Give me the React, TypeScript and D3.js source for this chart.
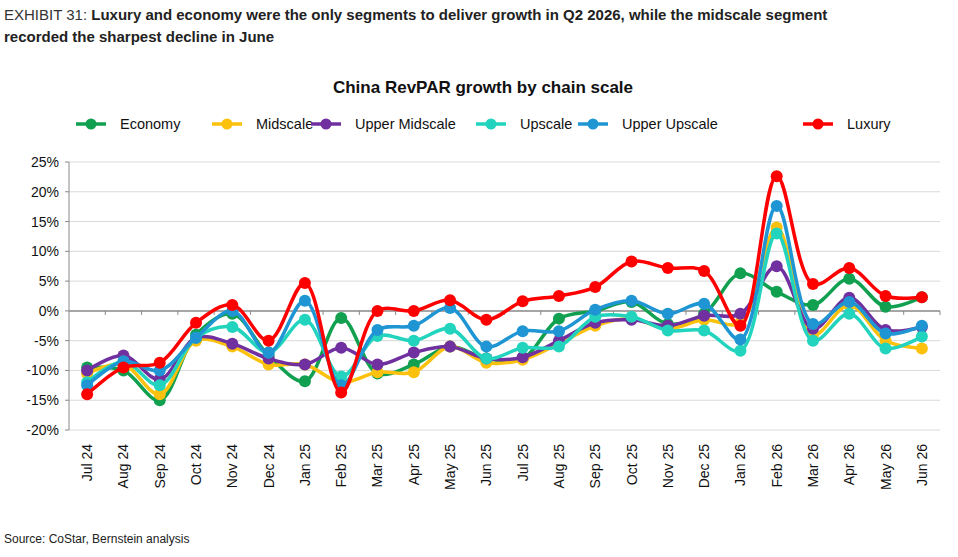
import React from 'react';
import * as d3 from 'd3';

const months = ['Jul 24','Aug 24','Sep 24','Oct 24','Nov 24','Dec 24','Jan 25','Feb 25','Mar 25','Apr 25','May 25','Jun 25','Jul 25','Aug 25','Sep 25','Oct 25','Nov 25','Dec 25','Jan 26','Feb 26','Mar 26','Apr 26','May 26','Jun 26'];

const economy = [-9.5,-10,-15,-4,-0.5,-7.5,-11.8,-1.2,-10.5,-9,-6,-8,-8,-1.3,0,1.5,-2.2,-0.5,6.3,3.2,1,5.4,0.7,2.3];
const midscale = [-10.5,-9,-14,-5,-6,-9,-9,-12,-10.3,-10.3,-6,-8.7,-8.2,-5.5,-2.5,-1.3,-3,-1.5,-2,14,-4,1,-5,-6.3];
const upperMidscale = [-10,-7.5,-11.5,-4.5,-5.5,-8,-9,-6.2,-9,-7,-6,-8,-7.8,-5,-2,-1.5,-2.5,-0.8,-0.5,7.5,-3,2.2,-3.2,-2.7];
const upscale = [-12,-8.5,-12.5,-4.5,-2.7,-7,-1.5,-11,-4.2,-5,-3,-8,-6.2,-6,-1,-1,-3.3,-3.3,-6.7,13,-5,-0.5,-6.3,-4.3];
const upperUpscale = [-12.5,-8.5,-10,-4.5,0,-7,1.7,-12.5,-3.2,-2.5,0.5,-6,-3.4,-3.4,0.2,1.7,-0.5,1.2,-4.8,17.6,-2.2,1.5,-3.8,-2.5];
const luxury = [-14,-9.5,-8.7,-2,1,-5,4.7,-13.7,0,0,1.8,-1.5,1.6,2.5,4,8.3,7.2,6.7,-2.5,22.6,4.5,7.2,2.5,2.3];

const seriesNames = ['Economy','Midscale','Upper Midscale','Upscale','Upper Upscale','Luxury'];
const seriesColors = ['#10a050','#fcc10c','#7030a0','#22d4bd','#1f96d3','#ff0000'];
const seriesValues = [economy, midscale, upperMidscale, upscale, upperUpscale, luxury];
const yTicks = [25,20,15,10,5,0,-5,-10,-15,-20];

const W = 958, H = 557;
const left = 69, right = 940, top = 162, bottom = 430;

export default function App() {
  const x = d3.scalePoint<string>().domain(months).range([left, right]).padding(0.5);
  const y = d3.scaleLinear().domain([-20, 25]).range([bottom, top]);
  const line = d3.line<number>()
    .x((_, i) => x(months[i])!)
    .y(d => y(d))
    .curve(d3.curveCatmullRom.alpha(0.5));
  const legendX = [76, 212, 311, 476, 578, 803];
  const step = x.step();

  return (
    <svg width={W} height={H} style={{ position: 'absolute', left: 0, top: 0, fontFamily: 'Liberation Sans, Arial, sans-serif' }}>
      <rect width={W} height={H} fill="#fff" />
      <text x={4} y={20} fontSize={15} fill="#222">
        <tspan fill="#333">EXHIBIT 31: </tspan>
        <tspan fontWeight="bold">Luxury and economy were the only segments to deliver growth in Q2 2026, while the midscale segment</tspan>
      </text>
      <text x={4} y={42} fontSize={15} fontWeight="bold" fill="#222">recorded the sharpest decline in June</text>
      <text x={483} y={93} fontSize={17} fontWeight="bold" textAnchor="middle" fill="#111">China RevPAR growth by chain scale</text>
      {seriesNames.map((n, i) => (
        <g key={n} transform={`translate(${legendX[i]},124)`}>
          <line x1={0} x2={30} y1={0} y2={0} stroke={seriesColors[i]} strokeWidth={3.5} />
          <circle cx={15} cy={0} r={5.5} fill={seriesColors[i]} />
          <text x={44} y={5} fontSize={14.5} fill="#111">{n}</text>
        </g>
      ))}
      {yTicks.map(t => (
        <g key={t}>
          <line x1={left} x2={right} y1={y(t)} y2={y(t)} stroke={t === 0 ? '#888' : '#d9d9d9'} strokeWidth={t === 0 ? 1.5 : 1} />
          <line x1={left - 4} x2={left} y1={y(t)} y2={y(t)} stroke="#888" />
          <text x={left - 10} y={y(t) + 5} fontSize={14} textAnchor="end" fill="#111">{t}%</text>
        </g>
      ))}
      <line x1={left} x2={left} y1={top} y2={bottom} stroke="#888" />
      {months.map((m, i) => (
        <g key={m}>
          <line x1={left + step * (i + 1)} x2={left + step * (i + 1)} y1={y(0)} y2={y(0) + 4} stroke="#888" />
          <text transform={`translate(${x(m)! + 5},${bottom + 14}) rotate(-90)`} fontSize={14} textAnchor="end" fill="#111">{m}</text>
        </g>
      ))}
      {seriesValues.map((vals, si) => (
        <g key={si}>
          <path d={line(vals)!} fill="none" stroke={seriesColors[si]} strokeWidth={3.5} />
          {vals.map((v, i) => (
            <circle key={i} cx={x(months[i])!} cy={y(v)} r={6} fill={seriesColors[si]} />
          ))}
        </g>
      ))}
      <text x={4} y={543} fontSize={12} fill="#222">Source: CoStar, Bernstein analysis</text>
    </svg>
  );
}
